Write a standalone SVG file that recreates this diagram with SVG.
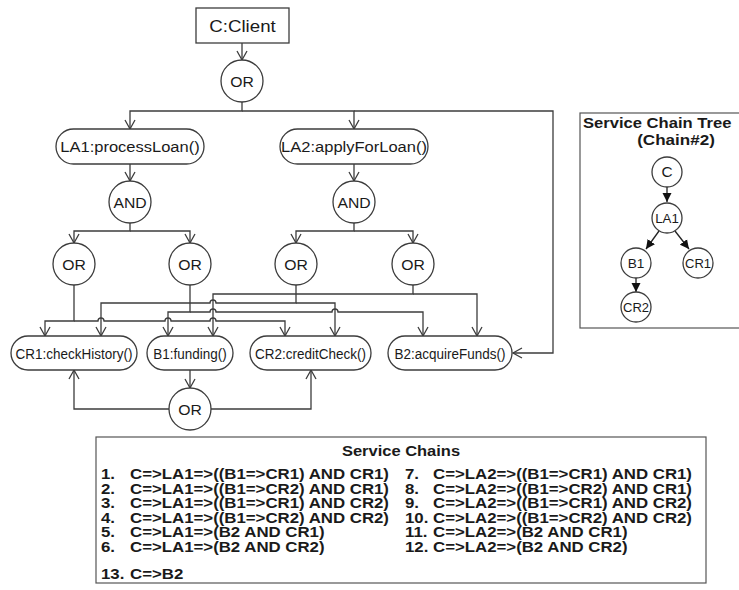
<svg xmlns="http://www.w3.org/2000/svg" width="739" height="590" viewBox="0 0 739 590">
  <style>
    .ln { fill: none; stroke: #3c3c3c; stroke-width: 1.3; }
    .nd { fill: #fff; stroke: #3c3c3c; stroke-width: 1.3; }
    .fr { fill: #fff; stroke: #555; stroke-width: 1.2; }
    .tl { fill: none; stroke: #222; stroke-width: 1.3; }
    text { font-family: "Liberation Sans", Arial, sans-serif; fill: #1a1a1a; }
    .lb { font-size: 14.5px; text-anchor: middle; }
    .la { font-size: 15.5px; text-anchor: middle; }
    .op { font-size: 15px; text-anchor: middle; }
    .tn { font-size: 13px; text-anchor: middle; }
    .hd { font-size: 15px; font-weight: bold; }
    .ch { font-size: 14.5px; font-weight: bold; }
  </style>
  <defs>
    <marker id="open" markerUnits="userSpaceOnUse" markerWidth="12" markerHeight="12" viewBox="0 0 12 12" refX="10" refY="6" orient="auto">
      <path d="M1,1 L10,6 L1,11" fill="none" stroke="#3c3c3c" stroke-width="1.3"/>
    </marker>
    <marker id="solid" markerUnits="userSpaceOnUse" markerWidth="10" markerHeight="10" viewBox="0 0 10 10" refX="9" refY="5" orient="auto">
      <path d="M0,0.5 L9,5 L0,9.5 Z" fill="#111"/>
    </marker>
  </defs>

  <rect width="739" height="590" fill="#fff"/>

  <!-- connectors of the main flow graph -->
  <g id="connectors" class="ln">
    <path d="M242,43 V60" marker-end="url(#open)"/>
    <path d="M242,102 V111 H130 V129" marker-end="url(#open)"/>
    <path d="M242,111 H354 V129" marker-end="url(#open)"/>
    <path d="M354,111 H553 V353 H513" marker-end="url(#open)"/>

    <path d="M130,164 V181" marker-end="url(#open)"/>
    <path d="M354,164 V181" marker-end="url(#open)"/>

    <path d="M130,223 V231 H74 V243" marker-end="url(#open)"/>
    <path d="M130,231 H190 V243" marker-end="url(#open)"/>
    <path d="M354,223 V231 H296 V243" marker-end="url(#open)"/>
    <path d="M354,231 H413 V243" marker-end="url(#open)"/>

    <!-- OR (LA1 left) to CR1 / CR2 -->
    <path d="M74,285 V321 H45 V336" marker-end="url(#open)"/>
    <path d="M74,321 H98 a3,3 0 0 1 6,0 H165 a3,3 0 0 1 6,0 H210 a3,3 0 0 1 6,0 H285 V336" marker-end="url(#open)"/>
    <!-- OR (LA1 right) to B1 / B2 -->
    <path d="M190,285 V312 H168 V336" marker-end="url(#open)"/>
    <path d="M190,312 H210 a3,3 0 0 1 6,0 H332 a3,3 0 0 1 6,0 H423 V336" marker-end="url(#open)"/>
    <!-- OR (LA2 left) to CR1 / CR2 -->
    <path d="M296,285 V303 H216 a3,3 0 0 0 -6,0 H101 V336" marker-end="url(#open)"/>
    <path d="M296,303 H335 V336" marker-end="url(#open)"/>
    <!-- OR (LA2 right) to B1 / B2 -->
    <path d="M413,285 V294 H213 V336" marker-end="url(#open)"/>
    <path d="M413,294 H477 V336" marker-end="url(#open)"/>

    <!-- B1 to OR, OR back to CR1 / CR2 -->
    <path d="M190,370 V388" marker-end="url(#open)"/>
    <path d="M169,409 H74 V370" marker-end="url(#open)"/>
    <path d="M211,409 H311 V370" marker-end="url(#open)"/>
  </g>

  <g id="client">
    <rect class="nd" x="196" y="8" width="93" height="35"/>
    <text class="la" transform="translate(242.5,31.5) scale(1.1,1)" style="font-size:17px">C:Client</text>
  </g>
  <g id="or-top">
    <circle class="nd" cx="242" cy="81" r="21"/>
    <text class="op" transform="translate(242,86.5) scale(1.05,1)">OR</text>
  </g>

  <g id="la1">
    <rect class="nd" x="56" y="129" width="148" height="35" rx="17.5"/>
    <text class="la" transform="translate(130,152) scale(1.066,1)">LA1:processLoan()</text>
  </g>
  <g id="la2">
    <rect class="nd" x="280" y="129" width="148" height="35" rx="17.5"/>
    <text class="la" transform="translate(354,152) scale(1.066,1)">LA2:applyForLoan()</text>
  </g>

  <g id="and-la1">
    <circle class="nd" cx="130" cy="202" r="21"/>
    <text class="op" transform="translate(130,207.5) scale(1.05,1)">AND</text>
  </g>
  <g id="and-la2">
    <circle class="nd" cx="354" cy="202" r="21"/>
    <text class="op" transform="translate(354,207.5) scale(1.05,1)">AND</text>
  </g>

  <g id="or-la1-a">
    <circle class="nd" cx="74" cy="264" r="21"/>
    <text class="op" transform="translate(74,269.5) scale(1.05,1)">OR</text>
  </g>
  <g id="or-la1-b">
    <circle class="nd" cx="190" cy="264" r="21"/>
    <text class="op" transform="translate(190,269.5) scale(1.05,1)">OR</text>
  </g>
  <g id="or-la2-a">
    <circle class="nd" cx="296" cy="264" r="21"/>
    <text class="op" transform="translate(296,269.5) scale(1.05,1)">OR</text>
  </g>
  <g id="or-la2-b">
    <circle class="nd" cx="413" cy="264" r="21"/>
    <text class="op" transform="translate(413,269.5) scale(1.05,1)">OR</text>
  </g>

  <g id="cr1">
    <rect class="nd" x="11" y="336" width="126" height="34" rx="17"/>
    <text class="lb" transform="translate(74,358.5) scale(0.93,1)">CR1:checkHistory()</text>
  </g>
  <g id="b1">
    <rect class="nd" x="147" y="336" width="86" height="34" rx="17"/>
    <text class="lb" transform="translate(190,358.5) scale(0.93,1)">B1:funding()</text>
  </g>
  <g id="cr2">
    <rect class="nd" x="250" y="336" width="121" height="34" rx="17"/>
    <text class="lb" transform="translate(310.5,358.5) scale(0.93,1)">CR2:creditCheck()</text>
  </g>
  <g id="b2">
    <rect class="nd" x="388" y="336" width="124" height="34" rx="17"/>
    <text class="lb" transform="translate(450,358.5) scale(0.93,1)">B2:acquireFunds()</text>
  </g>

  <g id="or-b1">
    <circle class="nd" cx="190" cy="409" r="21"/>
    <text class="op" transform="translate(190,414.5) scale(1.05,1)">OR</text>
  </g>

  <!-- side panel: tree of one chain -->
  <g id="chain-tree">
    <rect class="fr" x="580" y="113" width="180" height="215"/>
    <text class="hd" transform="translate(583,128) scale(1.07,1)" style="font-size:15.5px">Service Chain Tree</text>
    <text class="hd" text-anchor="middle" transform="translate(676,144.5) scale(1.1,1)" style="font-size:15.5px">(Chain#2)</text>
    <g class="tl">
      <path d="M667,187 V202" marker-end="url(#solid)"/>
      <path d="M659,231 L646,249" marker-end="url(#solid)"/>
      <path d="M675,231 L689,249" marker-end="url(#solid)"/>
      <path d="M636,278 V292" marker-end="url(#solid)"/>
    </g>
    <g id="t-c">
      <circle class="nd" cx="667" cy="172" r="15"/>
      <text class="tn" transform="translate(667,177) scale(1.1,1)" style="font-size:14px">C</text>
    </g>
    <g id="t-la1">
      <circle class="nd" cx="667" cy="218" r="15"/>
      <text class="tn" transform="translate(667,222.5) scale(1.02,1)">LA1</text>
    </g>
    <g id="t-b1">
      <circle class="nd" cx="636" cy="263" r="15"/>
      <text class="tn" transform="translate(636,267.5) scale(1.05,1)">B1</text>
    </g>
    <g id="t-cr1">
      <circle class="nd" cx="698" cy="263" r="15"/>
      <text class="tn" transform="translate(698,267.5)">CR1</text>
    </g>
    <g id="t-cr2">
      <circle class="nd" cx="636" cy="307" r="15"/>
      <text class="tn" transform="translate(636,311.5)">CR2</text>
    </g>
  </g>

  <!-- list of all service chains -->
  <g id="chains">
    <rect class="fr" x="96" y="437" width="610" height="146"/>
    <text class="hd" text-anchor="middle" transform="translate(401,456) scale(1.1,1)">Service Chains</text>
    <g class="ch">
      <text transform="translate(101,479) scale(1.16,1)">1.</text>
      <text transform="translate(130,479) scale(1.16,1)">C=&gt;LA1=&gt;((B1=&gt;CR1) AND CR1)</text>
      <text transform="translate(101,493.5) scale(1.16,1)">2.</text>
      <text transform="translate(130,493.5) scale(1.16,1)">C=&gt;LA1=&gt;((B1=&gt;CR2) AND CR1)</text>
      <text transform="translate(101,508) scale(1.16,1)">3.</text>
      <text transform="translate(130,508) scale(1.16,1)">C=&gt;LA1=&gt;((B1=&gt;CR1) AND CR2)</text>
      <text transform="translate(101,522.5) scale(1.16,1)">4.</text>
      <text transform="translate(130,522.5) scale(1.16,1)">C=&gt;LA1=&gt;((B1=&gt;CR2) AND CR2)</text>
      <text transform="translate(101,537) scale(1.16,1)">5.</text>
      <text transform="translate(130,537) scale(1.16,1)">C=&gt;LA1=&gt;(B2 AND CR1)</text>
      <text transform="translate(101,551.5) scale(1.16,1)">6.</text>
      <text transform="translate(130,551.5) scale(1.16,1)">C=&gt;LA1=&gt;(B2 AND CR2)</text>

      <text transform="translate(405,479) scale(1.16,1)">7.</text>
      <text transform="translate(433,479) scale(1.16,1)">C=&gt;LA2=&gt;((B1=&gt;CR1) AND CR1)</text>
      <text transform="translate(405,493.5) scale(1.16,1)">8.</text>
      <text transform="translate(433,493.5) scale(1.16,1)">C=&gt;LA2=&gt;((B1=&gt;CR2) AND CR1)</text>
      <text transform="translate(405,508) scale(1.16,1)">9.</text>
      <text transform="translate(433,508) scale(1.16,1)">C=&gt;LA2=&gt;((B1=&gt;CR1) AND CR2)</text>
      <text transform="translate(405,522.5) scale(1.16,1)">10.</text>
      <text transform="translate(433,522.5) scale(1.16,1)">C=&gt;LA2=&gt;((B1=&gt;CR2) AND CR2)</text>
      <text transform="translate(405,537) scale(1.16,1)">11.</text>
      <text transform="translate(433,537) scale(1.16,1)">C=&gt;LA2=&gt;(B2 AND CR1)</text>
      <text transform="translate(405,551.5) scale(1.16,1)">12.</text>
      <text transform="translate(433,551.5) scale(1.16,1)">C=&gt;LA2=&gt;(B2 AND CR2)</text>

      <text transform="translate(101,579) scale(1.16,1)">13.</text>
      <text transform="translate(130,579) scale(1.16,1)">C=&gt;B2</text>
    </g>
  </g>
</svg>
